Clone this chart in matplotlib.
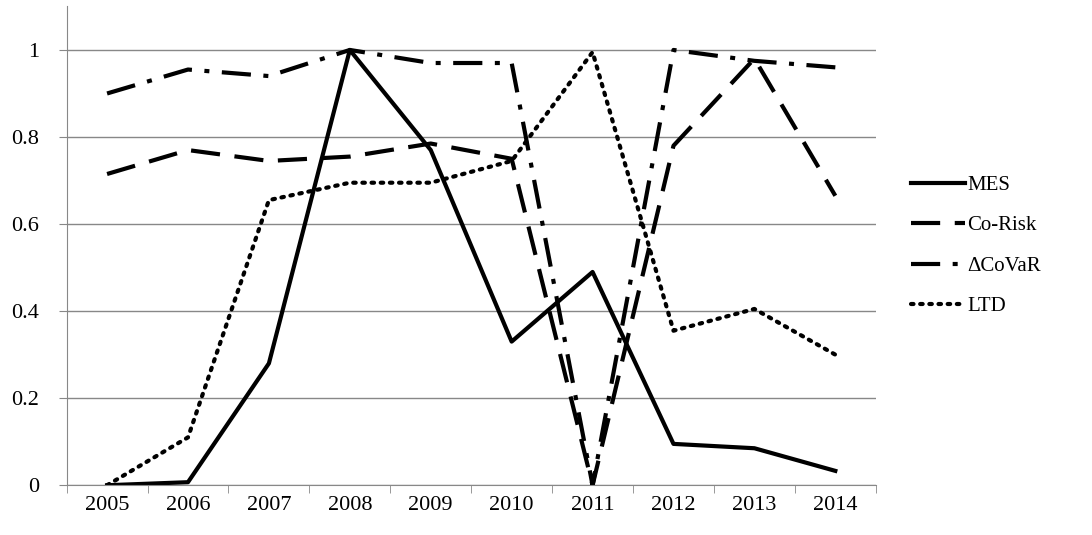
import matplotlib.pyplot as plt

years = ['2005', '2006', '2007', '2008', '2009', '2010', '2011', '2012', '2013', '2014']
mes = [0.0, 0.007, 0.28, 1.0, 0.77, 0.33, 0.49, 0.095, 0.085, 0.033]
co_risk = [0.715, 0.77, 0.745, 0.755, 0.785, 0.75, 0.0, 0.78, 0.98, 0.665]
dcovar = [0.90, 0.955, 0.94, 1.0, 0.97, 0.97, 0.0, 1.0, 0.975, 0.96]
ltd = [0.0, 0.11, 0.655, 0.695, 0.695, 0.745, 0.995, 0.355, 0.405, 0.30]

plt.rcParams['font.family'] = ['Liberation Serif', 'DejaVu Serif']
fig = plt.figure(figsize=(10.92, 5.35), dpi=100)
ax = fig.add_axes([0.061, 0.093, 0.741, 0.895])

x = list(range(len(years)))
ax.plot(x, mes, color='black', lw=3, label='MES')
ax.plot(x, co_risk, color='black', lw=3, dashes=(7, 3.5), label='Co-Risk')
ax.plot(x, dcovar, color='black', lw=3, dashes=(7, 3, 1.2, 3), label='ΔCoVaR')
ax.plot(x, ltd, color='black', lw=3, linestyle=(0, (0.6, 1.6)), dash_capstyle='round', label='LTD')

ax.set_xlim(-0.5, len(years) - 0.5)
ax.set_ylim(0, 1.1)
ax.set_yticks([0, 0.2, 0.4, 0.6, 0.8, 1.0])
ax.set_yticklabels(['0', '0.2', '0.4', '0.6', '0.8', '1'])
ax.set_xticks(x)
ax.set_xticklabels(years)
ax.set_xticks([i - 0.5 for i in range(len(years) + 1)], minor=True)
ax.tick_params(axis='x', which='major', length=0, pad=8, labelsize=16)
ax.tick_params(axis='x', which='minor', length=6, color='#888888')
ax.tick_params(axis='y', length=6, color='#888888', labelsize=16, pad=14)
ax.grid(axis='y', color='#888888', lw=1)
ax.set_axisbelow(True)
for s in ['top', 'right']:
    ax.spines[s].set_visible(False)
for s in ['left', 'bottom']:
    ax.spines[s].set_color('#888888')

ax.legend(loc='center left', bbox_to_anchor=(1.02, 0.5), frameon=False, fontsize=15,
          handlelength=2.6, handletextpad=0.1, labelspacing=1.0)

fig.savefig('out.png', dpi=100)
